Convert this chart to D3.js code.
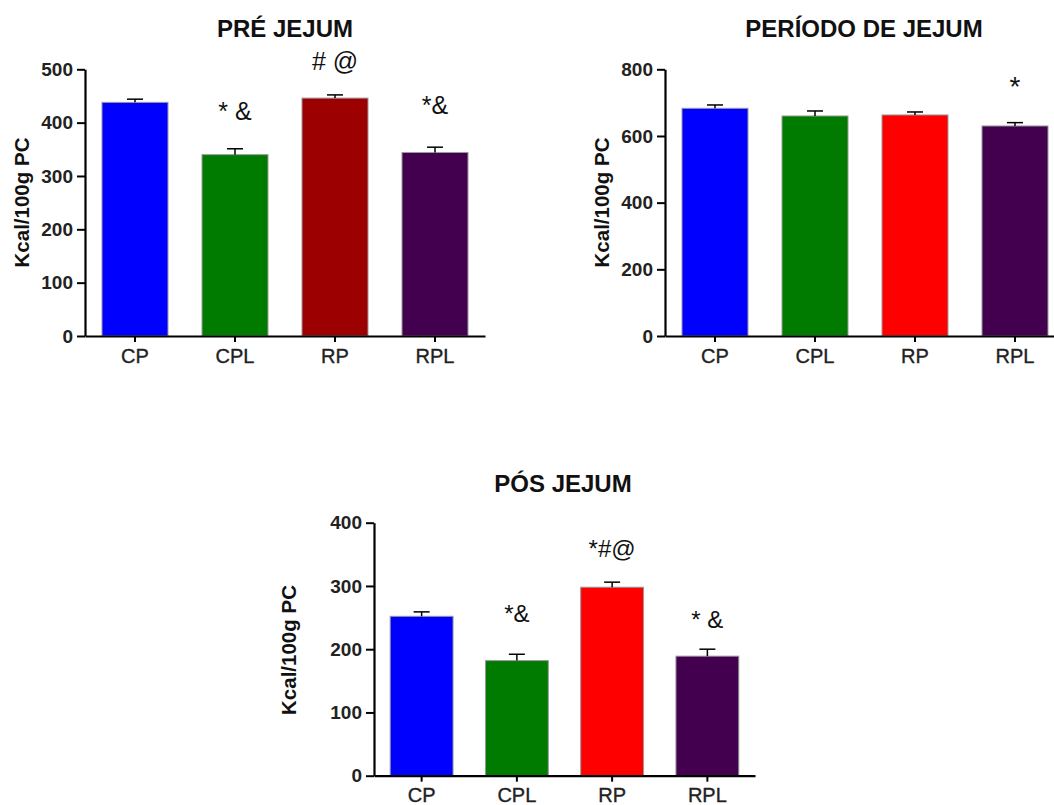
<!DOCTYPE html>
<html><head><meta charset="utf-8">
<script src="https://cdn.jsdelivr.net/npm/d3@7"></script>
<style>
body{margin:0;background:#fff}
text{font-family:"Liberation Sans",Arial,sans-serif}
</style>
</head><body>
<svg id="c" width="1054" height="805"></svg>
<script>
const categories = ["CP", "CPL", "RP", "RPL"];

const preMeans = [438, 340, 446, 344];
const preErr = [6, 11, 6, 10];
const preMarks = ["", "* &", "# @", "*&"];
const preMarkY = [0, 405, 499, 416];
const preTicks = [0, 100, 200, 300, 400, 500];
const preColors = ["#0000ff", "#007b00", "#9c0000", "#42004f"];

const periodMeans = [683, 660, 663, 630];
const periodErr = [10, 15, 9, 10];
const periodMarks = ["", "", "", "*"];
const periodMarkY = [0, 0, 0, 721];
const periodTicks = [0, 200, 400, 600, 800];
const periodColors = ["#0000ff", "#007b00", "#ff0000", "#42004f"];

const posMeans = [252, 182, 298, 189];
const posErr = [7, 10, 8, 11];
const posMarks = ["", "*&", "*#@", "* &"];
const posMarkY = [0, 243, 346, 233];
const posTicks = [0, 100, 200, 300, 400];
const posColors = ["#0000ff", "#007b00", "#ff0000", "#42004f"];

const yLabel = "Kcal/100g PC";

const panels = [
  {title: "PRÉ JEJUM", means: preMeans, err: preErr, marks: preMarks, markY: preMarkY,
   ticks: preTicks, colors: preColors,
   x0: 85, x1: 485, y0: 336, y1: 69.3, titleX: 285, titleY: 36.7, labelX: 28.5, labelY: 202.5, markSize: 25},
  {title: "PERÍODO DE JEJUM", means: periodMeans, err: periodErr, marks: periodMarks, markY: periodMarkY,
   ticks: periodTicks, colors: periodColors,
   x0: 665, x1: 1065, y0: 336, y1: 69.3, titleX: 864, titleY: 36.7, labelX: 608.5, labelY: 202.5, markSize: 28},
  {title: "PÓS JEJUM", means: posMeans, err: posErr, marks: posMarks, markY: posMarkY,
   ticks: posTicks, colors: posColors,
   x0: 374, x1: 755, y0: 775.7, y1: 522.7, titleX: 563, titleY: 491.5, labelX: 296, labelY: 650, markSize: 24}
];

const svg = d3.select("#c");
svg.append("rect").attr("width", 1054).attr("height", 805).attr("fill", "#fff");

panels.forEach(p => {
  const dmax = p.ticks[p.ticks.length - 1];
  const x = d3.scaleBand().domain(categories).range([p.x0, p.x1]).paddingInner(0.34).paddingOuter(0.17);
  const y = d3.scaleLinear().domain([0, dmax]).range([p.y0, p.y1]);
  const g = svg.append("g");

  // bars
  g.selectAll("rect.bar").data(categories).enter().append("rect")
    .attr("class", "bar")
    .attr("x", d => x(d))
    .attr("width", x.bandwidth())
    .attr("y", (d, i) => y(p.means[i]))
    .attr("height", (d, i) => y(0) - y(p.means[i]))
    .attr("fill", (d, i) => p.colors[i])
    .attr("stroke", "#9a9a9a")
    .attr("stroke-width", 1);

  // error bars
  const cw = 8;
  categories.forEach((c, i) => {
    const cx = x(c) + x.bandwidth() / 2;
    g.append("line").attr("x1", cx).attr("x2", cx)
      .attr("y1", y(p.means[i])).attr("y2", y(p.means[i] + p.err[i]))
      .attr("stroke", "#000").attr("stroke-width", 1.5);
    g.append("line").attr("x1", cx - cw).attr("x2", cx + cw)
      .attr("y1", y(p.means[i] + p.err[i])).attr("y2", y(p.means[i] + p.err[i]))
      .attr("stroke", "#000").attr("stroke-width", 1.5);
    if (p.marks[i]) {
      g.append("text").attr("x", cx).attr("y", y(p.markY[i]))
        .attr("text-anchor", "middle").attr("font-size", p.markSize)
        .attr("fill", "#111").text(p.marks[i]);
    }
  });

  // y axis
  const ya = g.append("g").attr("transform", `translate(${p.x0},0)`)
    .call(d3.axisLeft(y).tickValues(p.ticks).tickSize(8).tickSizeOuter(0).tickFormat(d3.format("d")));
  ya.select(".domain").attr("stroke-width", 2.2);
  ya.selectAll(".tick line").attr("stroke-width", 2);
  ya.selectAll(".tick text")
    .attr("font-size", 19).attr("font-weight", "bold").attr("fill", "#222")
    .attr("font-family", "'Liberation Sans', Arial, sans-serif")
    .attr("x", -12);

  // x axis
  const xa = g.append("g").attr("transform", `translate(0,${p.y0})`)
    .call(d3.axisBottom(x).tickSize(6).tickSizeOuter(0));
  xa.select(".domain").attr("stroke-width", 2.2);
  xa.selectAll(".tick line").attr("stroke-width", 2);
  xa.selectAll(".tick text")
    .attr("font-size", 20).attr("fill", "#222")
    .attr("stroke", "#222").attr("stroke-width", 0.35)
    .attr("font-family", "'Liberation Sans', Arial, sans-serif")
    .attr("dy", 0).attr("y", 26.5);

  // y label
  g.append("text")
    .attr("transform", `translate(${p.labelX},${p.labelY}) rotate(-90)`)
    .attr("text-anchor", "middle").attr("font-size", 20.5).attr("font-weight", "bold")
    .attr("fill", "#111").text(yLabel);

  // title
  g.append("text").attr("x", p.titleX).attr("y", p.titleY)
    .attr("text-anchor", "middle").attr("font-size", 24).attr("font-weight", "bold")
    .attr("fill", "#111").text(p.title);
});
</script>
</body></html>
